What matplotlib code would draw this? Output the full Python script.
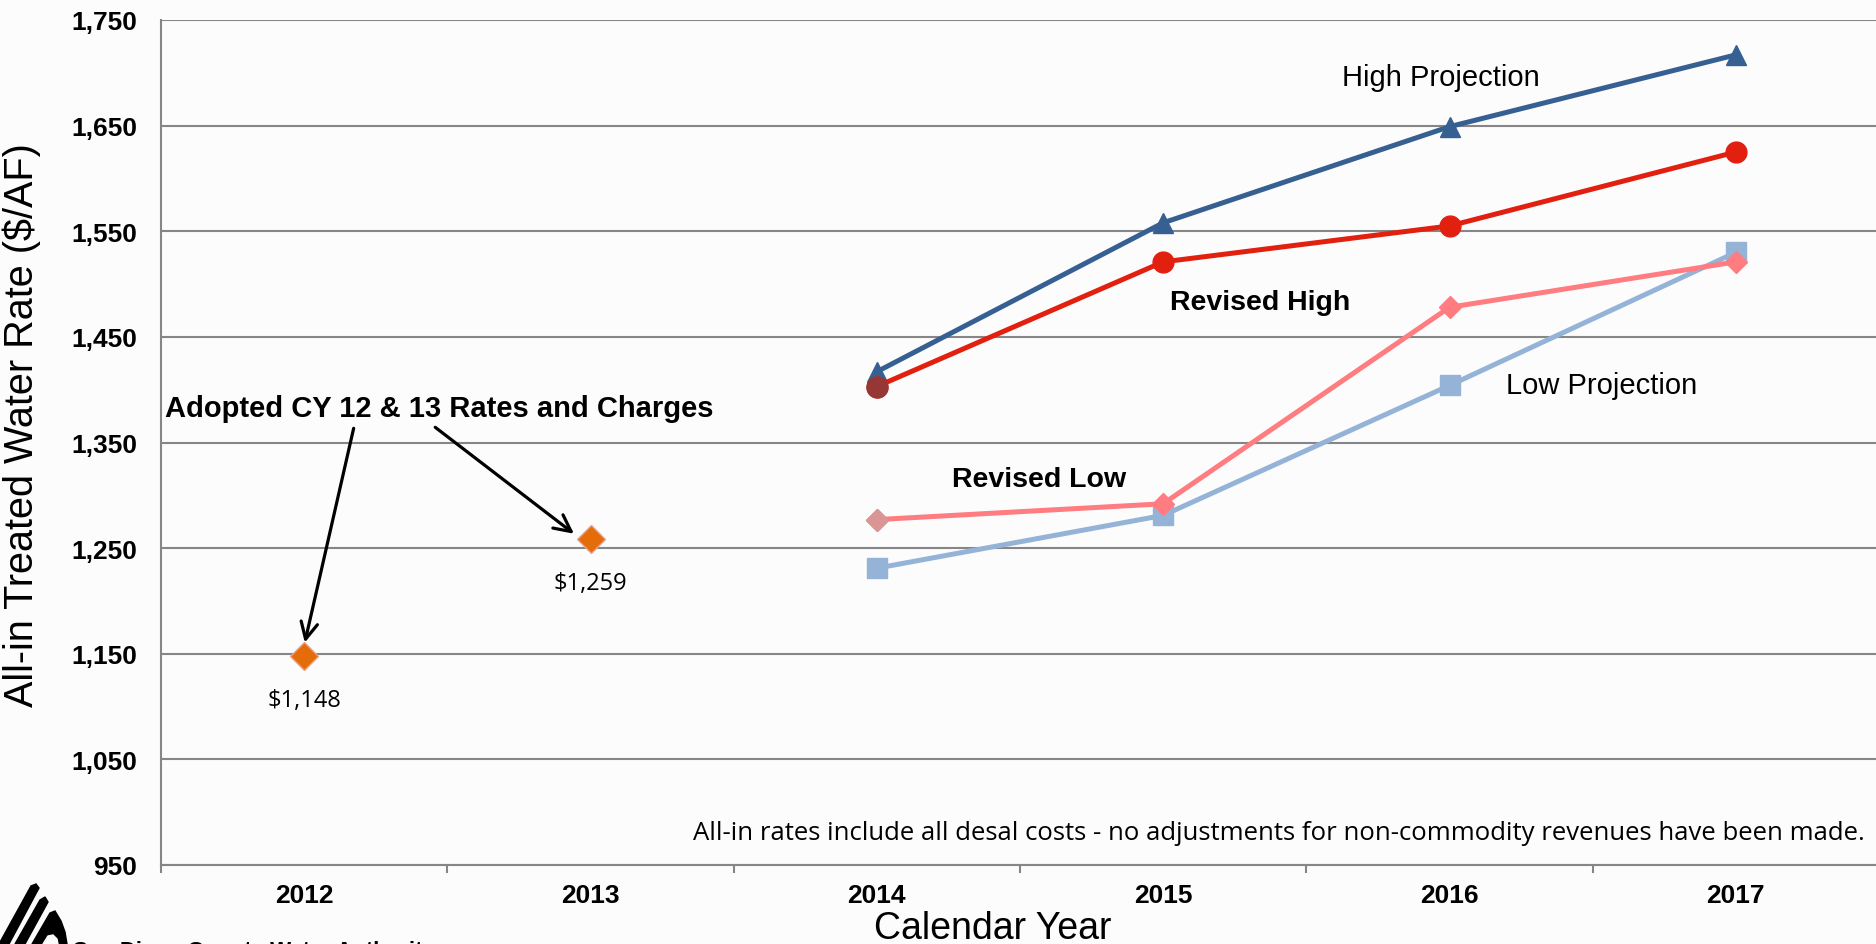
"""All-in treated water rate projections, CY 2012-2017"""
import matplotlib.pyplot as plt
from matplotlib.patches import Polygon

years = ['2012', '2013', '2014', '2015', '2016', '2017']
adopted_years = [0, 1]
adopted_rates = [1148, 1259]
proj_years = [2, 3, 4, 5]
high_projection = [1417, 1558, 1649, 1717]
revised_high = [1403, 1521, 1555, 1625]
revised_low = [1277, 1292, 1478, 1521]
low_projection = [1231, 1281, 1404, 1530]
y_ticks = [950, 1050, 1150, 1250, 1350, 1450, 1550, 1650, 1750]

W, H = 1876, 945
BG = '#fcfcfc'
fig = plt.figure(figsize=(W / 100, H / 100), dpi=100)
fig.patch.set_facecolor(BG)
ax = fig.add_axes([161 / W, 79 / H, 1718 / W, 845 / H])
ax.set_facecolor(BG)

# series, drawn bottom to top
ax.plot(proj_years, low_projection, color='#95b3d7', lw=3.6, marker='s',
        ms=14, zorder=3)
ax.plot(proj_years, revised_low, color='#ff7c80', lw=3.6, marker='D',
        ms=11, zorder=4)
ax.plot(proj_years[:1], revised_low[:1], color='#d99694', marker='D',
        ms=11, lw=0, zorder=4)
ax.plot(proj_years, high_projection, color='#376092', lw=3.6, marker='^',
        ms=15, zorder=5)
ax.plot(proj_years, revised_high, color='#e2200f', lw=3.6, marker='o',
        ms=15, zorder=6)
ax.plot(proj_years[:1], revised_high[:1], color='#953735', marker='o',
        ms=15, lw=0, zorder=6)
ax.plot(adopted_years, adopted_rates, lw=0, marker='D', ms=14,
        color='#e46c0a', markeredgecolor='#e6a38a', markeredgewidth=1, zorder=6)

for x, v in zip(adopted_years, adopted_rates):
    ax.annotate(f'${v:,}', (x, v), xytext=(0, -32), textcoords='offset points',
                ha='center', va='center', fontsize=17, family='Open Sans')

# axes styling
ax.set_xlim(-0.5, 5.5)
ax.set_ylim(950, 1750)
ax.set_yticks(y_ticks)
ax.set_yticklabels([f'{t:,}' for t in y_ticks], fontsize=19,
                   fontweight='bold', family='Liberation Sans')
ax.set_xticks(range(len(years)))
ax.set_xticklabels(years, fontsize=19, fontweight='bold',
                   family='Liberation Sans')
ax.set_xticks([i + 0.5 for i in range(-1, 6)], minor=True)
ax.tick_params(axis='y', length=0, pad=17)
ax.tick_params(axis='x', which='major', length=0, pad=13)
ax.tick_params(axis='x', which='minor', length=6, width=1.5, color='#868686')
ax.grid(axis='y', color='#868686', lw=1.5)
ax.set_axisbelow(True)
for side in ['top', 'right']:
    ax.spines[side].set_visible(False)
for side in ['left', 'bottom']:
    ax.spines[side].set_color('#868686')
    ax.spines[side].set_linewidth(1.5)

fig.text(22 / W, 1 - 425 / H, 'All-in Treated Water Rate ($/AF)',
         rotation=90, ha='center', va='center', fontsize=28.5,
         family='Liberation Sans')
fig.text(993 / W, 1 - 929 / H, 'Calendar Year', ha='center', va='center',
         fontsize=27, family='Liberation Sans')

# series labels
ax.text(3.97, 1696, 'High Projection', fontsize=21, ha='center', va='center',
        family='Liberation Sans')
ax.text(3.34, 1483, 'Revised High', fontsize=20.5, ha='center', va='center',
        fontweight='bold', family='Liberation Sans')
ax.text(4.53, 1404, 'Low Projection', fontsize=21, ha='center', va='center',
        family='Liberation Sans')
ax.text(2.565, 1315, 'Revised Low', fontsize=20.5, ha='center', va='center',
        fontweight='bold', family='Liberation Sans')

# adopted rates callout
ax.text(-0.485, 1383, 'Adopted CY 12 & 13 Rates and Charges', fontsize=21,
        fontweight='bold', ha='left', va='center', family='Liberation Sans')
arrow = dict(arrowstyle='->', color='black', lw=2.3, mutation_scale=30)
ax.annotate('', xy=(adopted_years[0], adopted_rates[0] + 10),
            xytext=(0.175, 1366), arrowprops=arrow)
ax.annotate('', xy=(adopted_years[1] - 0.05, adopted_rates[1] + 3),
            xytext=(0.45, 1366), arrowprops=arrow)

fig.text(1865 / W, 1 - 833 / H,
         'All-in rates include all desal costs - no adjustments for '
         'non-commodity revenues have been made.',
         ha='right', va='center', fontsize=18.5, family='Open Sans')


# water authority logo, bottom left corner
def px(points):
    return [(x / W, 1 - y / H) for x, y in points]


logo = [
    ([(31, 887), (36, 885), (39, 889), (9, 945), (-1, 945)], 'black'),
    ([(40, 901), (45, 898), (48, 903), (25, 945), (15, 945)], 'black'),
    ([(50, 914), (55, 912), (61, 922), (65, 933), (67, 945), (32, 945)],
     'black'),
    ([(43, 945), (48, 937), (53, 936), (57, 940), (58, 945)], BG),
]
for shape, colour in logo:
    fig.patches.append(Polygon(px(shape), closed=True, color=colour,
                               transform=fig.transFigure))
# organisation name runs off the bottom edge of the page
fig.text(73 / W, 1 - 941 / H, 'San Diego County Water Authority',
         fontsize=16, fontweight='bold', ha='left', va='top',
         family='Liberation Sans')

fig.savefig('out.png', dpi=100, facecolor=fig.get_facecolor())
